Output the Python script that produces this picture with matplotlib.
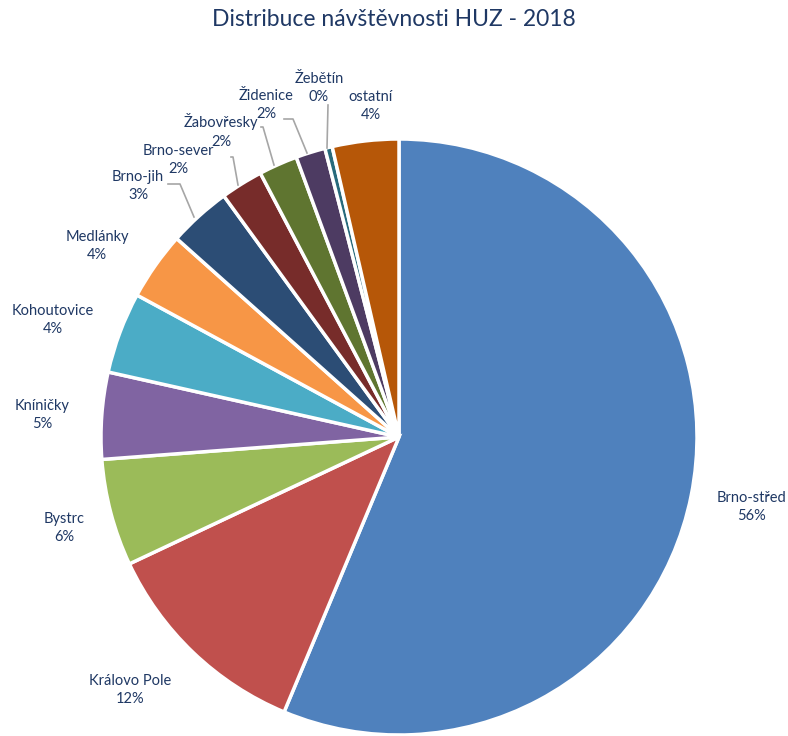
import matplotlib
matplotlib.use('Agg')
import matplotlib.pyplot as plt

plt.rcParams['font.family'] = ['Lato', 'DejaVu Sans']

# data
districts = ['Brno-střed', 'Královo Pole', 'Bystrc', 'Kníničky', 'Kohoutovice',
             'Medlánky', 'Brno-jih', 'Brno-sever', 'Žabovřesky', 'Židenice',
             'Žebětín', 'ostatní']
share = [56.3, 11.7, 5.8, 4.7, 4.4, 3.7, 3.4, 2.3, 2.1, 1.6, 0.4, 3.6]
colors = ['#4F81BD', '#C0504D', '#9BBB59', '#8064A2', '#4BACC6', '#F79646',
          '#2C4D75', '#772C2A', '#5F7530', '#4D3B62', '#276A7C', '#B65708']

txt = '#1F3864'

fig = plt.figure(figsize=(7.88, 7.36), dpi=100)
ax = fig.add_axes([0, 0, 1, 1])

wedges, _ = ax.pie(share, colors=colors, startangle=90, counterclock=False,
                   center=(399, 299), radius=298, frame=True,
                   wedgeprops=dict(edgecolor='white', linewidth=2.5))
ax.set_xlim(0, 788)
ax.set_ylim(0, 736)
ax.axis('off')

# label positions (pixel coords, y from top), chosen like the excel layout
label_pos = [(752, 507), (130, 690), (64, 528), (42, 415), (53, 320), (97, 246),
             (138, 186), (178, 160), (221, 131), (266, 105), (319, 88), (371, 106)]
tot = sum(share)
for name, v, (x, y) in zip(districts, share, label_pos):
    pct = int(v / tot * 100 + 0.5)
    ax.text(x, 736 - y, '%s\n%d%%' % (name, pct), ha='center', va='center',
            fontsize=10.5, color=txt, linespacing=1.4)

# leader lines
leaders = [
    [(168, 184), (180, 184), (194, 217)],
    [(231, 157), (233, 157), (238, 185)],
    [(261, 127), (263, 127), (274, 165)],
    [(284, 119), (293, 119), (307, 153)],
    [(328, 105), (327, 148)],
]
for pts in leaders:
    ax.plot([p[0] for p in pts], [736 - p[1] for p in pts], color='#A6A6A6', lw=1.2)

fig.text(0.5, 1 - 20 / 736, 'Distribuce návštěvnosti HUZ - 2018', ha='center',
         va='center', fontsize=16.5, color=txt)

fig.savefig('out.png', dpi=100)
